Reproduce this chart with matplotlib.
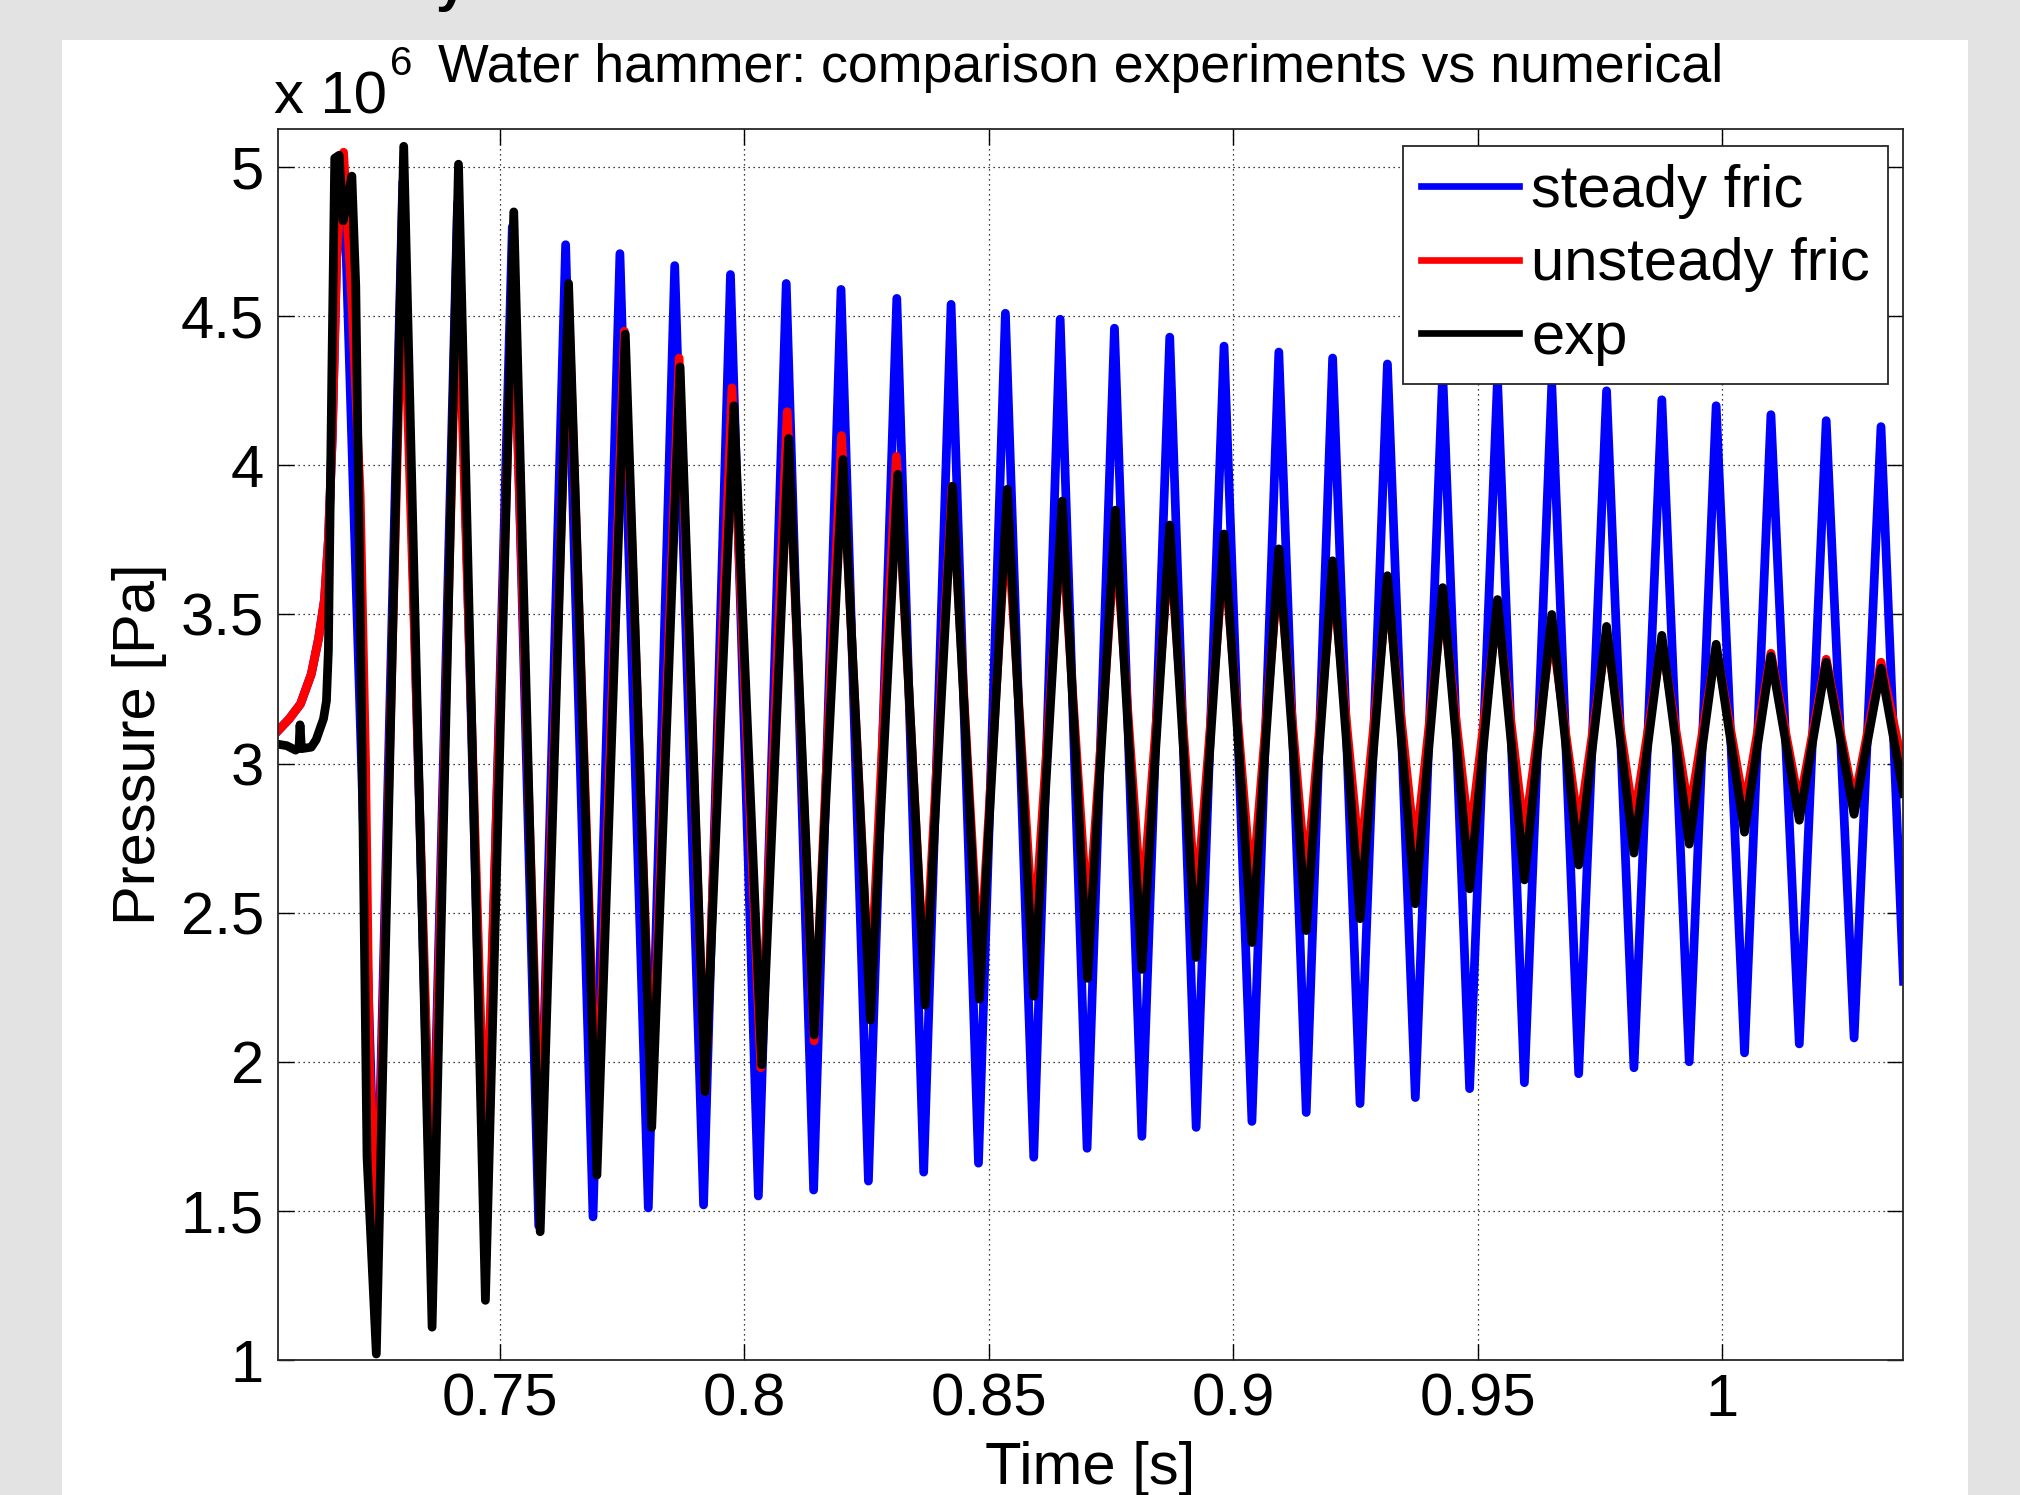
"""Water hammer: steady vs unsteady friction model against the experiment.

Values below were read off the reference picture (pressure in 1e6 Pa).
"""
import numpy as np
import matplotlib
matplotlib.use("Agg")
import matplotlib.pyplot as plt
from matplotlib.patches import Rectangle
from matplotlib.ticker import FixedLocator, FuncFormatter

# ---- steady friction model (blue): start-up, then peaks / troughs ----
steady_t = [0.7047, 0.7070, 0.7093, 0.7115, 0.7130, 0.7142, 0.7150, 0.7158, 0.7167,
            0.7181, 0.7248, 0.7302, 0.7360, 0.7414, 0.7470, 0.7526, 0.7580, 0.7635,
            0.7691, 0.7746, 0.7804, 0.7858, 0.7917, 0.7972, 0.8029, 0.8086, 0.8142,
            0.8198, 0.8254, 0.8312, 0.8367, 0.8423, 0.8479, 0.8534, 0.8592, 0.8646,
            0.8701, 0.8757, 0.8813, 0.8870, 0.8924, 0.8981, 0.9038, 0.9093, 0.9149,
            0.9203, 0.9259, 0.9315, 0.9372, 0.9428, 0.9483, 0.9540, 0.9595, 0.9651,
            0.9706, 0.9763, 0.9819, 0.9876, 0.9932, 0.9987, 1.0045, 1.0099, 1.0157,
            1.0212, 1.0269, 1.0324, 1.0370]
steady_p = [3.11, 3.15, 3.20, 3.30, 3.42, 3.55, 3.75, 4.10, 4.70,
            5.00, 1.35, 4.95, 1.38, 4.88, 1.42, 4.80, 1.45, 4.74,
            1.48, 4.71, 1.51, 4.67, 1.52, 4.64, 1.55, 4.61, 1.57,
            4.59, 1.60, 4.56, 1.63, 4.54, 1.66, 4.51, 1.68, 4.49,
            1.71, 4.46, 1.75, 4.43, 1.78, 4.40, 1.80, 4.38, 1.83,
            4.36, 1.86, 4.34, 1.88, 4.31, 1.91, 4.29, 1.93, 4.27,
            1.96, 4.25, 1.98, 4.22, 2.00, 4.20, 2.03, 4.17, 2.06,
            4.15, 2.08, 4.13, 2.27]

# ---- unsteady friction model (red) ----
unsteady_t = [0.7047, 0.7070, 0.7093, 0.7115, 0.7130, 0.7142, 0.7150, 0.7158, 0.7167,
              0.7181, 0.7198, 0.7215, 0.7226, 0.7234, 0.7250, 0.7302, 0.7362, 0.7414,
              0.7471, 0.7527, 0.7583, 0.7641, 0.7699, 0.7755, 0.7811, 0.7867, 0.7920,
              0.7975, 0.8034, 0.8088, 0.8143, 0.8199, 0.8257, 0.8311, 0.8369, 0.8425,
              0.8481, 0.8537, 0.8592, 0.8649, 0.8703, 0.8759, 0.8813, 0.8870, 0.8924,
              0.8981, 0.9038, 0.9093, 0.9149, 0.9203, 0.9259, 0.9315, 0.9372, 0.9428,
              0.9483, 0.9540, 0.9595, 0.9651, 0.9706, 0.9763, 0.9819, 0.9876, 0.9932,
              0.9987, 1.0045, 1.0099, 1.0157, 1.0212, 1.0269, 1.0324, 1.0370]
unsteady_p = [3.11, 3.15, 3.20, 3.30, 3.42, 3.55, 3.75, 4.10, 4.70,
              5.05, 4.55, 3.90, 3.00, 2.00, 1.42, 4.75, 1.45, 4.70,
              1.62, 4.62, 1.65, 4.55, 1.74, 4.45, 1.86, 4.36, 1.90,
              4.26, 1.98, 4.18, 2.07, 4.10, 2.20, 4.03, 2.25, 3.93,
              2.30, 3.84, 2.40, 3.80, 2.45, 3.77, 2.50, 3.74, 2.52,
              3.71, 2.56, 3.67, 2.60, 3.63, 2.66, 3.59, 2.70, 3.55,
              2.74, 3.52, 2.76, 3.45, 2.78, 3.43, 2.81, 3.41, 2.83,
              3.39, 2.85, 3.37, 2.86, 3.35, 2.87, 3.34, 2.98]

# ---- experiment (black) ----
exp_t = [0.7047, 0.7065, 0.7083, 0.7090, 0.7092, 0.7095, 0.7115, 0.7125, 0.7140,
         0.7146, 0.7150, 0.7157, 0.7163, 0.7172, 0.7180, 0.7190, 0.7198, 0.7206,
         0.7219, 0.7229, 0.7248, 0.7304, 0.7362, 0.7416, 0.7471, 0.7529, 0.7583,
         0.7641, 0.7699, 0.7757, 0.7811, 0.7869, 0.7920, 0.7979, 0.8036, 0.8091,
         0.8143, 0.8202, 0.8258, 0.8314, 0.8370, 0.8426, 0.8481, 0.8538, 0.8592,
         0.8650, 0.8702, 0.8759, 0.8813, 0.8870, 0.8924, 0.8981, 0.9038, 0.9093,
         0.9149, 0.9203, 0.9259, 0.9315, 0.9372, 0.9428, 0.9483, 0.9540, 0.9595,
         0.9651, 0.9706, 0.9763, 0.9819, 0.9876, 0.9932, 0.9987, 1.0045, 1.0099,
         1.0157, 1.0212, 1.0269, 1.0324, 1.0370]
exp_p = [3.065, 3.06, 3.045, 3.055, 3.13, 3.05, 3.055, 3.08, 3.15,
         3.21, 3.38, 4.30, 5.03, 5.04, 4.82, 4.90, 4.97, 4.60,
         3.02, 1.68, 1.02, 5.07, 1.11, 5.01, 1.20, 4.85, 1.43,
         4.61, 1.62, 4.44, 1.78, 4.33, 1.90, 4.20, 1.99, 4.09,
         2.09, 4.02, 2.14, 3.97, 2.19, 3.93, 2.21, 3.92, 2.22,
         3.88, 2.28, 3.85, 2.31, 3.80, 2.35, 3.77, 2.40, 3.72,
         2.44, 3.68, 2.48, 3.63, 2.53, 3.59, 2.58, 3.55, 2.61,
         3.50, 2.66, 3.46, 2.70, 3.43, 2.73, 3.40, 2.77, 3.36,
         2.81, 3.34, 2.83, 3.32, 2.90]

series = [
    ("steady fric", steady_t, steady_p, "#0000ff"),
    ("unsteady fric", unsteady_t, unsteady_p, "#ff0000"),
    ("exp", exp_t, exp_p, "#000000"),
]

x_ticks = [0.75, 0.8, 0.85, 0.9, 0.95, 1.0]
y_ticks = [1, 1.5, 2, 2.5, 3, 3.5, 4, 4.5, 5]
SCALE = 1e6

plt.rcParams["font.family"] = ["Liberation Sans", "DejaVu Sans"]

W, H = 2020, 1495
FS = 43
LW = 6.3

fig = plt.figure(figsize=(W / 100, H / 100), dpi=100, facecolor="#e3e3e3")
# white figure panel sitting on the grey page
fig.patches.append(Rectangle((62 / W, 0), (1968 - 62) / W, (H - 40) / H,
                             transform=fig.transFigure, facecolor="white",
                             edgecolor="none", zorder=-1))
# tail of a heading that is cut off by the top of the page
fig.text(436 / W, 1.0, "y", fontsize=40, fontweight="bold", ha="left", va="baseline")

ax = fig.add_axes([278 / W, 1 - 1360 / H, (1903 - 278) / W, (1360 - 129) / H])

for label, t, p, color in series:
    ax.plot(t, np.array(p) * SCALE, color=color, lw=LW, label=label,
            solid_joinstyle="round")

ax.set_xlim(0.7047, 1.0369)
ax.set_ylim(1.0 * SCALE, 5.128 * SCALE)
ax.xaxis.set_major_locator(FixedLocator(x_ticks))
ax.yaxis.set_major_locator(FixedLocator([v * SCALE for v in y_ticks]))
ax.xaxis.set_major_formatter(FuncFormatter(lambda v, _: f"{v:g}"))
ax.yaxis.set_major_formatter(FuncFormatter(lambda v, _: f"{v / SCALE:g}"))

ax.tick_params(axis="both", direction="in", length=11.5, width=1.0,
               top=True, right=True, labelsize=FS, colors="k")
ax.tick_params(axis="x", pad=9)
ax.tick_params(axis="y", pad=10)
ax.grid(True, linestyle=(0, (1, 3)), color="k", lw=0.9)
for s in ax.spines.values():
    s.set_linewidth(1.3)
    s.set_color("#262626")

ax.set_xlabel("Time [s]", fontsize=FS, labelpad=10)
ax.set_ylabel("Pressure [Pa]", fontsize=FS, labelpad=10)
fig.text(1081 / W, 1 - 82 / H, "Water hammer: comparison experiments vs numerical",
         fontsize=38.7, ha="center", va="baseline")
# MATLAB style exponent label above the y axis
fig.text(274 / W, 1 - 113 / H, "x 10", fontsize=FS, ha="left", va="baseline")
fig.text(390 / W, 1 - 75 / H, "6", fontsize=29, ha="left", va="baseline")

leg = ax.legend(loc="upper right", bbox_to_anchor=(1888 / W, 1 - 146 / H),
                bbox_transform=fig.transFigure, borderaxespad=0, fontsize=FS,
                handlelength=1.65, handletextpad=0.2, labelspacing=0.31,
                borderpad=0.3, fancybox=False, framealpha=1)
leg.get_frame().set_edgecolor("#262626")
leg.get_frame().set_linewidth(1.3)
for line in leg.get_lines():
    line.set_linewidth(4.8)

fig.savefig("out.png", dpi=100, facecolor=fig.get_facecolor())
